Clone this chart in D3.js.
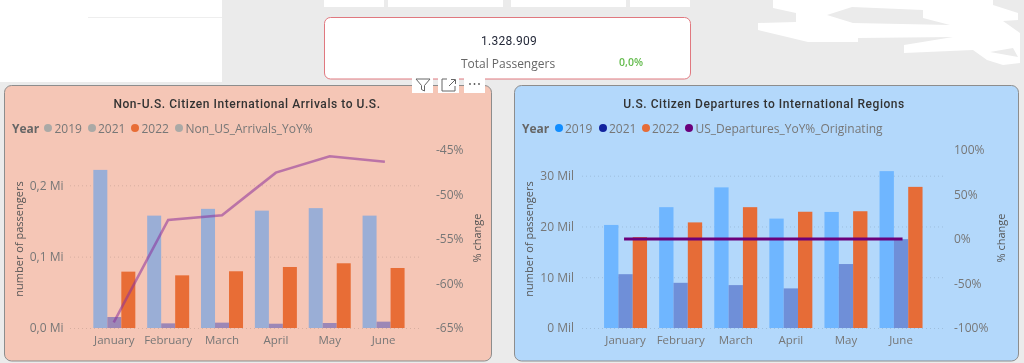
<!DOCTYPE html>
<html>
<head>
<meta charset="utf-8">
<script src="https://cdn.jsdelivr.net/npm/d3@7/dist/d3.min.js"></script>
<style>
html,body{margin:0;padding:0;background:#ebebeb;overflow:hidden}
svg{display:block;filter:blur(0.35px)}
text{font-family:"Open Sans",sans-serif}
.title{font-family:Roboto,sans-serif;font-weight:500;letter-spacing:.55px}
</style>
</head>
<body>
<svg id="c" width="1024" height="363"></svg>
<script>
const months = ["January","February","March","April","May","June"];
const years = ["2019","2021","2022"];

const arrivals2019 = [0.2216,0.1575,0.167,0.1645,0.168,0.1575];
const arrivals2021 = [0.0154,0.0065,0.0075,0.006,0.007,0.0089];
const arrivals2022 = [0.079,0.0738,0.0795,0.0855,0.0907,0.0841];
const arrivalsYoY = [-64.25,-52.85,-52.33,-47.54,-45.71,-46.3];
const arrivalsBarTicks = [0,0.1,0.2];
const arrivalsPctTicks = [-65,-60,-55,-50,-45];

const departures2019 = [20.3,23.8,27.7,21.55,22.86,30.9];
const departures2021 = [10.6,8.9,8.45,7.8,12.6,17.5];
const departures2022 = [17.9,20.8,23.8,22.9,23,27.8];
const departuresYoY = [0,0,0,0,0,0];
const departuresBarTicks = [0,10,20,30];
const departuresPctTicks = [-100,-50,0,50,100];

const svg = d3.select("#c");
const grey = "#777";

// ---- report background ----
svg.append("rect").attr("x",0).attr("y",0).attr("width",222).attr("height",82).attr("fill","#fff");
svg.append("rect").attr("x",88).attr("y",17).attr("width",134).attr("height",1).attr("fill","#eee");
[[324,60],[388,115],[511,115],[630,60]].forEach(([x,w])=>
  svg.append("rect").attr("x",x).attr("y",0).attr("width",w).attr("height",7).attr("fill","#fff"));
svg.append("path").attr("fill","#fff").attr("fill-rule","evenodd").attr("d",
 "M773,0L993,0L993,5L1018,13L1018,20L1003,21L1020,33L1020,63L1003,65L987,60L973,50L904,53L904,45L953,37L858,38L858,42L808,42L758,30L758,23L796,22L796,13L773,8Z"+
 "M827,15L852,7L923,10L923,18L950,25L853,23Z"+
 "M990,52L1013,48L1018,57Z");

// ---- KPI card ----
svg.append("rect").attr("x",324.5).attr("y",17.5).attr("width",366).attr("height",61.5).attr("rx",6)
  .attr("fill","#fff").attr("stroke","#e0787f");
svg.append("text").attr("x",509).attr("y",44.5).attr("text-anchor","middle").attr("font-family","Roboto,sans-serif")
  .style("font-family","Roboto,sans-serif").attr("font-size",12).attr("letter-spacing",.3).attr("fill","#252a3a").text("1.328.909");
svg.append("text").attr("x",508).attr("y",68).attr("text-anchor","middle").attr("font-size",12).attr("fill","#666").text("Total Passengers");
svg.append("text").attr("x",631).attr("y",66).attr("text-anchor","middle").attr("font-size",10.5).attr("font-weight",600).attr("fill","#63bb4c").text("0,0%");

// ---- panels ----
function panel(o){
  svg.append("rect").attr("x",o.left+.5).attr("y",85.5).attr("width",o.width).attr("height",275.5).attr("rx",7)
    .attr("fill",o.bg).attr("stroke","#8d8d8d");
  svg.append("text").attr("class","title").attr("x",o.titleX).attr("y",108).attr("text-anchor","middle")
    .attr("font-size",12).attr("fill","#333").text(o.title);

  const x = d3.scaleBand().domain(months).range([o.x0,o.x0+o.step*6]).paddingInner(0.22).paddingOuter(0.11);
  const inner = d3.scaleBand().domain(years).range([0,x.bandwidth()]);
  const yL = d3.scaleLinear().domain(o.barDomain).range([328,o.barTop]);
  const yR = d3.scaleLinear().domain(o.pctDomain).range([328,150]);

  // gridlines
  svg.append("g").selectAll("line").data(o.barTicks).join("line")
    .attr("x1",o.gridL).attr("x2",o.gridR).attr("y1",d=>yL(d)+.5).attr("y2",d=>yL(d)+.5)
    .attr("stroke","#000").attr("stroke-opacity",.12).attr("stroke-dasharray","1 3");

  // bars
  o.series.forEach((vals,i)=>{
    svg.append("g").selectAll("rect").data(vals).join("rect")
      .attr("x",(d,j)=>x(months[j])+inner(years[i]))
      .attr("width",inner.bandwidth())
      .attr("y",d=>yL(d)).attr("height",d=>328-yL(d))
      .attr("fill",o.colors[i]);
  });

  // line
  const line = d3.line().x((d,j)=>x(months[j])+x.bandwidth()/2).y(d=>yR(d));
  svg.append("path").datum(o.yoy).attr("d",line).attr("fill","none")
    .attr("stroke",o.lineColor).attr("stroke-opacity",o.lineOpacity).attr("stroke-width",o.lineWidth)
    .attr("stroke-linecap","square");

  // axes
  const clean = g=>{g.select(".domain").remove();g.selectAll("line").remove();
    g.selectAll("text").attr("fill",grey).attr("font-size",12).attr("font-family",'"Open Sans",sans-serif');};
  svg.append("g").attr("transform","translate(0,328)")
    .call(d3.axisBottom(x).tickSize(0).tickPadding(8)).call(clean)
    .selectAll("text").attr("font-size",11.5);
  svg.append("g").attr("transform",`translate(${o.tickL},0)`)
    .call(d3.axisLeft(yL).tickValues(o.barTicks).tickFormat(o.barFmt).tickSize(0).tickPadding(0)).call(clean);
  svg.append("g").attr("transform",`translate(${o.tickR},0)`)
    .call(d3.axisRight(yR).tickValues(o.pctTicks).tickFormat(d=>d+"%").tickSize(0).tickPadding(0)).call(clean);

  // axis titles
  [[o.titleL,239,"number of passengers"],[o.titleR,238,"% change"]].forEach(([tx,ty,s])=>
    svg.append("text").attr("transform",`translate(${tx},${ty}) rotate(-90)`).attr("text-anchor","middle")
      .attr("font-size",11).attr("fill","#555").text(s));

  // legend
  svg.append("text").attr("x",o.legend.year).attr("y",132.5).attr("font-size",12).attr("font-weight",700).attr("fill","#666").text("Year");
  o.legend.items.forEach(([cx,tx,c,s])=>{
    svg.append("circle").attr("cx",cx).attr("cy",128).attr("r",4).attr("fill",c);
    svg.append("text").attr("x",tx).attr("y",132.5).attr("font-size",12).attr("fill","#777").text(s);
  });
}

panel({left:4,width:487,bg:"#f5c6b6",title:"Non-U.S. Citizen International Arrivals to U.S.",titleX:247,
  x0:87.4,step:53.85,series:[arrivals2019,arrivals2021,arrivals2022],colors:["#9aaed6","#9c87b6","#e86d36"],
  barDomain:[0,0.2],barTop:185.3,pctDomain:[-65,-45],barTicks:arrivalsBarTicks,pctTicks:arrivalsPctTicks,
  yoy:arrivalsYoY,lineColor:"#8a2f9a",lineOpacity:.55,lineWidth:2.6,
  barFmt:d=>d3.format(".1f")(d).replace(".",",")+" Mi",
  tickL:63.5,tickR:436,titleL:23,titleR:481,gridL:70,gridR:420,
  legend:{year:12,items:[[48,54.5,"#aaa9a6","2019"],[92,98,"#aaa9a6","2021"],[135,141.5,"#e86d36","2022"],[179,185.5,"#aaa9a6","Non_US_Arrivals_YoY%"]]}
});

panel({left:514,width:504,bg:"#b3d8fb",title:"U.S. Citizen Departures to International Regions",titleX:764,
  x0:598,step:55.1,series:[departures2019,departures2021,departures2022],colors:["#6fb6ff","#6f8fd8","#e66c37"],
  barDomain:[0,30],barTop:175.7,pctDomain:[-100,100],barTicks:departuresBarTicks,pctTicks:departuresPctTicks,
  yoy:departuresYoY,lineColor:"#6b007b",lineOpacity:1,lineWidth:3,
  barFmt:d=>d+" Mil",
  tickL:574,tickR:954,titleL:533,titleR:1005,gridL:582,gridR:945,
  legend:{year:522,items:[[559,565,"#118dff","2019"],[603,609,"#12239e","2021"],[646,652,"#e66c37","2022"],[689,695.5,"#6b007b","US_Departures_YoY%_Originating"]]}
});

// ---- visual header icons ----
[412,438,464].forEach(x=>svg.append("rect").attr("x",x).attr("y",75).attr("width",21).attr("height",18).attr("fill","#fff"));
svg.append("path").attr("d","M416,79H430L424.5,85.5V91L421.5,89.5V85.5Z").attr("fill","none").attr("stroke","#666");
svg.append("path").attr("d","M447,79H442V91H455V86M449,86L455,80M451,79.5H455.5V84").attr("fill","none").attr("stroke","#666");
[470,474.5,479].forEach(x=>svg.append("circle").attr("cx",x).attr("cy",84).attr("r",.9).attr("fill","#555"));
</script>
</body>
</html>
